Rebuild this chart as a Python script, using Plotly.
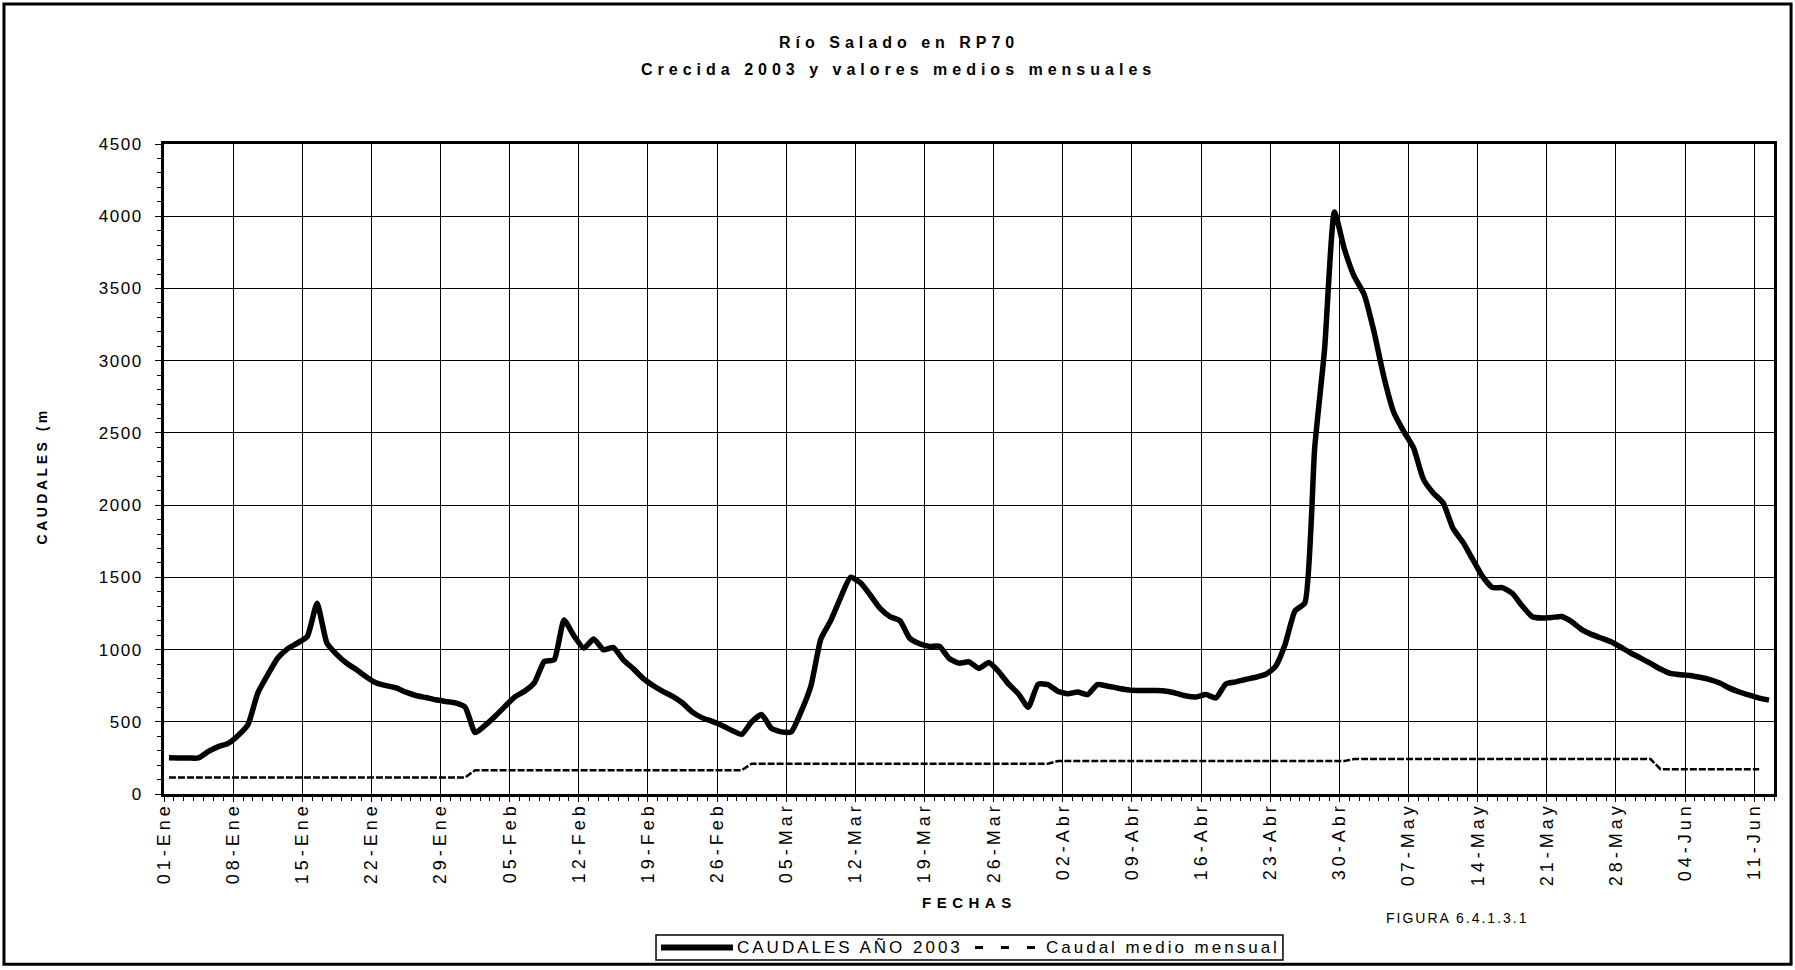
import pandas as pd
import plotly.graph_objects as go

# Caudales diarios (m3/s) del Río Salado en RP70, año 2003, por mes
caudal_ene = [251, 250, 249, 250, 295, 328, 350, 405, 480, 700, 825, 940, 1005, 1045, 1089,
              1320, 1043, 965, 905, 860, 810, 768, 750, 735, 705, 682, 668, 652, 641, 631, 600]
caudal_feb = [425, 475, 537, 605, 671, 711, 770, 917, 929, 1204, 1095, 1010, 1073, 998,
              1014, 929, 868, 800, 751, 711, 676, 630, 567, 527, 503, 475, 440, 413]
caudal_mar = [500, 550, 454, 430, 430, 570, 750, 1073, 1200, 1360, 1500, 1463, 1378, 1285,
              1228, 1200, 1078, 1040, 1022, 1023, 938, 906, 915, 869, 910, 848, 762, 694,
              600, 760, 757]
caudal_abr = [711, 694, 706, 688, 757, 748, 734, 722, 716, 716, 716, 711, 697, 679, 672,
              688, 665, 761, 776, 793, 808, 827, 880, 1035, 1267, 1322, 2398, 3079, 4030, 3774]
caudal_may = [3583, 3460, 3202, 2888, 2643, 2512, 2398, 2180, 2084, 2016, 1839, 1744, 1624,
              1505, 1429, 1429, 1390, 1303, 1229, 1218, 1222, 1229, 1193, 1140, 1105, 1080,
              1054, 1016, 976, 941, 905]
caudal_jun = [865, 835, 826, 821, 808, 792, 768, 733, 706, 684, 664, 650]

# Caudal medio mensual (m3/s) y días de cada mes que cubre la serie
caudal_medio_mensual = [115, 165, 210, 228, 242, 172]
dias_por_mes = [31, 28, 31, 30, 31, 11]

etiquetas_fecha = ["01-Ene", "08-Ene", "15-Ene", "22-Ene", "29-Ene", "05-Feb", "12-Feb",
                   "19-Feb", "26-Feb", "05-Mar", "12-Mar", "19-Mar", "26-Mar", "02-Abr",
                   "09-Abr", "16-Abr", "23-Abr", "30-Abr", "07-May", "14-May", "21-May",
                   "28-May", "04-Jun", "11-Jun"]

nombre_serie = "CAUDALES AÑO 2003"
nombre_medio = "Caudal medio mensual"

FUENTE = "Liberation Sans, Arial, sans-serif"


def espaciado(texto, px):
    return f'<span style="letter-spacing:{px}px">{texto}</span>'


caudales = caudal_ene + caudal_feb + caudal_mar + caudal_abr + caudal_may + caudal_jun
fechas = pd.date_range("2003-01-01 12:00", periods=len(caudales), freq="D")

medio = []
for valor, dias in zip(caudal_medio_mensual, dias_por_mes):
    medio += [valor] * dias
fechas_medio = fechas[:len(medio)]

marcas = pd.date_range("2003-01-01", periods=len(etiquetas_fecha), freq="7D")

fig = go.Figure()
fig.add_trace(go.Scatter(
    x=fechas, y=caudales, mode="lines",
    line=dict(color="black", width=5.5, shape="spline", smoothing=0.5),
    name=nombre_serie, showlegend=False,
))
fig.add_trace(go.Scatter(
    x=fechas_medio, y=medio, mode="lines",
    line=dict(color="black", width=2.5, dash="7px,2px"),
    name=nombre_medio, showlegend=False,
))

fig.update_xaxes(
    type="date", range=["2003-01-01", "2003-06-13"],
    tickmode="array", tickvals=marcas,
    ticktext=[espaciado(t, 4) for t in etiquetas_fecha],
    tickangle=-90, tickfont=dict(size=18, family=FUENTE, color="black"),
    showgrid=True, gridcolor="black", gridwidth=1,
    showline=True, linecolor="black", linewidth=3, mirror=True,
    ticks="outside", ticklen=5, tickcolor="black",
    minor=dict(dtick=86400000, tick0="2003-01-01", ticks="outside", ticklen=4,
               tickcolor="black", showgrid=False),
    zeroline=False, ticklabelstandoff=-7,
)
fig.update_yaxes(
    range=[0, 4500], tickmode="linear", tick0=0, dtick=500,
    tickfont=dict(size=17, family=FUENTE, color="black"),
    showgrid=True, gridcolor="black", gridwidth=1,
    showline=True, linecolor="black", linewidth=3, mirror=True,
    ticks="outside", ticklen=6, tickcolor="black",
    minor=dict(dtick=100, ticks="outside", ticklen=4, tickcolor="black", showgrid=False),
    zeroline=False, ticklabelstandoff=9,
    tickprefix='<span style="letter-spacing:1.5px">', ticksuffix="</span>",
)

anotaciones = [
    dict(text=espaciado("<b>Río Salado en RP70</b>", 5), x=0.4565, y=1.1568, size=16),
    dict(text=espaciado("<b>Crecida 2003 y valores medios mensuales</b>", 5),
         x=0.4565, y=1.1153, size=16),
    dict(text=espaciado("<b>FECHAS</b>", 5.5), x=0.5, y=-0.1664, size=15),
    dict(text=espaciado("FIGURA 6.4.1.3.1", 2), x=0.8037, y=-0.1914, size=14),
    dict(text=espaciado("<b>CAUDALES (m</b>", 3.5), x=-0.0758, y=0.49, size=14,
         textangle=-90),
]
for a in anotaciones:
    tam = a.pop("size")
    fig.add_annotation(xref="paper", yref="paper", xanchor="center", yanchor="middle",
                       showarrow=False, font=dict(size=tam, family=FUENTE, color="black"), **a)

# Marco exterior de la figura
fig.add_shape(type="rect", xref="paper", yref="paper",
              x0=-0.0994, x1=1.0106, y0=-0.2621, y1=1.2152,
              line=dict(color="black", width=3))

# Leyenda: recuadro, muestras de línea y textos
ley_y = -0.2362
fig.add_shape(type="rect", xref="paper", yref="paper",
              x0=0.3056, x1=0.6950, y0=-0.2554, y1=-0.2169,
              line=dict(color="black", width=1.5), fillcolor="white")
fig.add_shape(type="line", xref="paper", yref="paper",
              x0=0.3087, x1=0.3534, y0=ley_y, y1=ley_y,
              line=dict(color="black", width=6))
fig.add_shape(type="line", xref="paper", yref="paper",
              x0=0.5037, x1=0.5416, y0=ley_y, y1=ley_y,
              line=dict(color="black", width=3, dash="8px,18px"))
for texto, xi in [(nombre_serie, 0.3547), (nombre_medio, 0.5466)]:
    fig.add_annotation(xref="paper", yref="paper", x=xi, y=ley_y, xanchor="left",
                       yanchor="middle", showarrow=False, text=espaciado(texto, 3),
                       font=dict(size=17, family=FUENTE, color="black"))

fig.update_layout(
    width=1795, height=970,
    margin=dict(l=164, r=21, t=144, b=176, autoexpand=False),
    paper_bgcolor="white", plot_bgcolor="white",
    font=dict(family=FUENTE, color="black"),
    showlegend=False,
)

fig.write_html("out.html")
